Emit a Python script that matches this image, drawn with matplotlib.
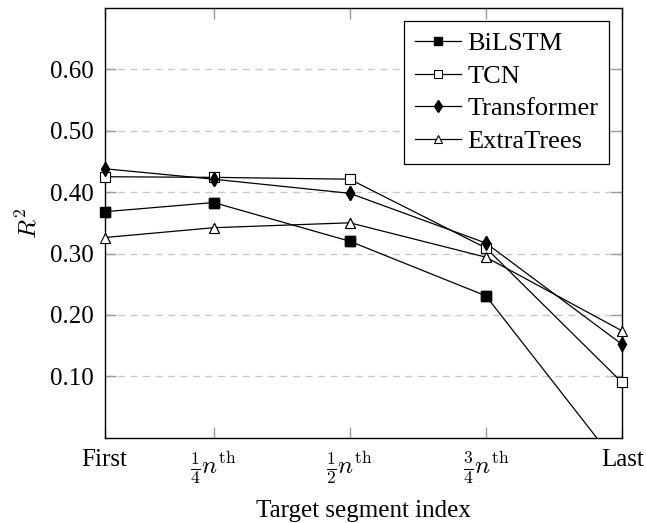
import matplotlib
matplotlib.use('Agg')
import matplotlib.pyplot as plt
import numpy as np

plt.rcParams['font.family'] = ['Liberation Serif', 'DejaVu Serif']
plt.rcParams['mathtext.fontset'] = 'cm'

# segment index positions (n = 20) and tick labels
x_pos = [1, 5, 10, 15, 20]
x_labels = ['First', r'$\frac{1}{4}n^{\mathrm{th}}$', r'$\frac{1}{2}n^{\mathrm{th}}$',
            r'$\frac{3}{4}n^{\mathrm{th}}$', 'Last']

# R^2 per model
bilstm = [0.368, 0.383, 0.320, 0.231, -0.053]
tcn = [0.425, 0.424, 0.421, 0.309, 0.090]
transformer = [0.438, 0.421, 0.398, 0.317, 0.152]
extratrees = [0.326, 0.342, 0.350, 0.294, 0.174]

y_ticks = [0.1, 0.2, 0.3, 0.4, 0.5, 0.6]
y_min, y_max = 0, 0.70

fig = plt.figure(figsize=(6.46, 5.23), dpi=100)
ax = fig.add_axes([0.162, 0.163, 0.801, 0.822])

lw = 0.9
styles = [
    (bilstm, 'BiLSTM', dict(marker='s', ms=7.5, mfc='k')),
    (tcn, 'TCN', dict(marker='s', ms=7.5, mfc='white', mew=0.8)),
    (transformer, 'Transformer', dict(marker='d', ms=7, mfc='k')),
    (extratrees, 'ExtraTrees', dict(marker='^', ms=7, mfc='white', mew=0.8)),
]
for vals, name, mk in styles:
    # line is clipped to the axes, markers inside the range are drawn over the spines
    ax.plot(x_pos, vals, color='k', lw=lw, mec='k', label=name, **mk)
    v = np.array(vals, dtype=float)
    v = np.ma.masked_where((v < y_min) | (v > y_max), v)
    ax.plot(x_pos, v, ls='none', mec='k', clip_on=False, zorder=3, **mk)

ax.set_xlim(1, 20)
ax.set_ylim(y_min, y_max)
ax.set_xticks(x_pos)
ax.set_xticklabels(x_labels)
ax.set_yticks(y_ticks)
ax.set_yticklabels(['%.2f' % v for v in y_ticks])

ax.yaxis.grid(True, color='#c8c8c8', linestyle=(0, (5, 4)), lw=1.0)
ax.set_axisbelow(True)
ax.tick_params(direction='in', length=8, width=1, color='#999999', labelsize=18,
               top=True, right=True, pad=8)
for s in ax.spines.values():
    s.set_linewidth(1.0)

ax.set_xlabel('Target segment index', fontsize=18, labelpad=10)
ax.set_ylabel(r'$R^2$', fontsize=18, labelpad=6)

leg = ax.legend(loc='upper right', fontsize=19, frameon=True, fancybox=False,
                edgecolor='k', framealpha=1, handlelength=1.75, handletextpad=0.25,
                borderpad=0.4, labelspacing=0.35, borderaxespad=0.5, markerscale=0.85)
leg.get_frame().set_linewidth(0.9)

fig.savefig('out.png', dpi=100)
